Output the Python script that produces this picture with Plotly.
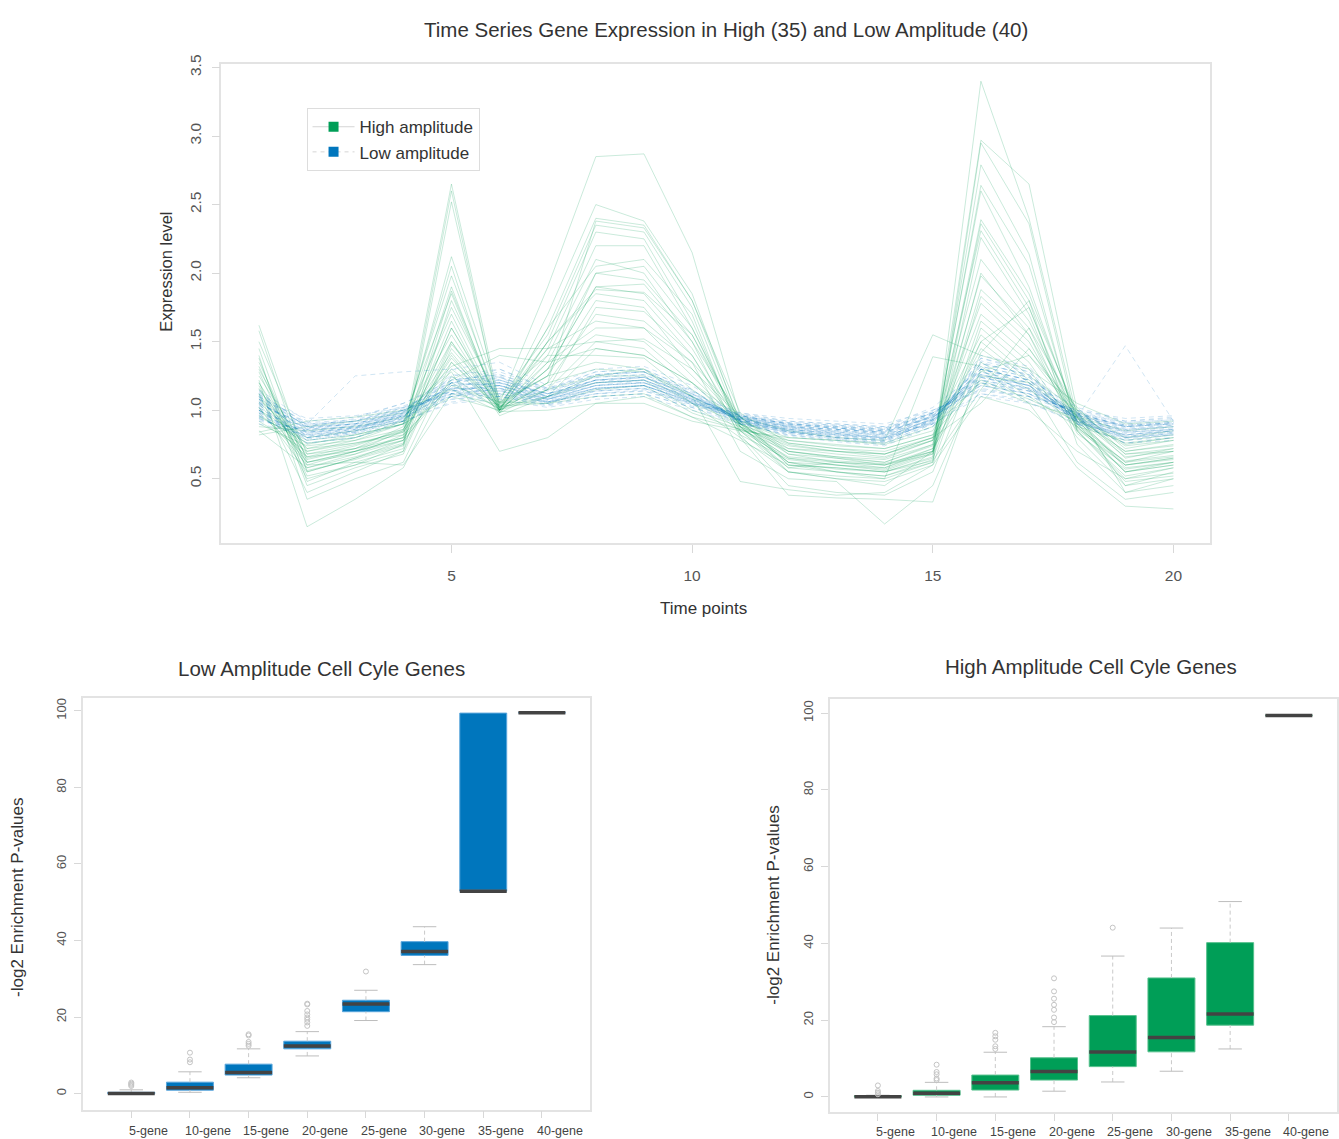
import plotly.graph_objects as go

W, H = 1339, 1139

time_points = list(range(1, 21))

high_amplitude = [
    [1.62, 0.62, 0.70, 0.80, 2.65, 1.05, 1.90, 2.85, 2.87, 2.15, 0.95, 0.60, 0.58, 0.55, 0.65, 3.40, 2.40, 0.95, 0.45, 0.55],
    [1.58, 0.55, 0.65, 0.75, 2.60, 1.00, 1.70, 2.50, 2.38, 1.85, 0.90, 0.55, 0.50, 0.45, 0.70, 2.97, 2.65, 1.00, 0.40, 0.50],
    [1.45, 0.48, 0.62, 0.72, 2.52, 1.02, 1.60, 2.40, 2.35, 1.80, 0.92, 0.62, 0.55, 0.52, 0.62, 2.95, 2.36, 0.90, 0.55, 0.60],
    [1.35, 0.60, 0.70, 0.85, 2.12, 1.08, 1.55, 2.35, 2.30, 1.75, 0.88, 0.58, 0.62, 0.60, 0.68, 2.79, 2.14, 0.85, 0.50, 0.58],
    [1.30, 0.65, 0.72, 0.88, 2.05, 1.00, 1.50, 2.30, 2.25, 1.65, 0.85, 0.65, 0.60, 0.58, 0.72, 2.64, 2.06, 0.88, 0.60, 0.65],
    [1.25, 0.70, 0.78, 0.90, 1.98, 1.05, 1.45, 2.20, 2.20, 1.60, 0.90, 0.70, 0.65, 0.62, 0.75, 2.60, 1.90, 0.92, 0.62, 0.70],
    [1.20, 0.58, 0.68, 0.82, 1.90, 0.98, 1.40, 2.10, 2.00, 1.50, 0.95, 0.68, 0.62, 0.60, 0.70, 2.39, 1.85, 0.95, 0.58, 0.62],
    [1.18, 0.50, 0.60, 0.75, 1.87, 1.02, 1.35, 2.00, 1.95, 1.55, 0.92, 0.60, 0.58, 0.55, 0.66, 2.36, 1.80, 0.98, 0.65, 0.72],
    [1.15, 0.72, 0.80, 0.92, 1.85, 1.00, 1.30, 1.90, 1.85, 1.45, 0.88, 0.72, 0.68, 0.65, 0.78, 2.31, 1.75, 0.90, 0.55, 0.60],
    [1.12, 0.40, 0.55, 0.70, 1.80, 1.04, 1.50, 1.85, 1.80, 1.40, 0.85, 0.55, 0.52, 0.50, 0.62, 2.26, 1.70, 0.85, 0.48, 0.52],
    [1.10, 0.68, 0.75, 0.85, 1.75, 1.06, 1.25, 1.80, 1.75, 1.30, 0.90, 0.75, 0.70, 0.68, 0.80, 2.10, 1.65, 0.95, 0.70, 0.75],
    [1.08, 0.75, 0.82, 0.90, 1.70, 1.00, 1.20, 1.70, 1.65, 1.35, 0.95, 0.70, 0.66, 0.64, 0.75, 1.98, 1.60, 1.00, 0.72, 0.78],
    [1.05, 0.62, 0.70, 0.80, 1.65, 0.98, 1.35, 1.60, 1.60, 1.25, 0.90, 0.65, 0.62, 0.58, 0.70, 1.88, 1.55, 0.92, 0.60, 0.65],
    [1.02, 0.55, 0.65, 0.78, 1.60, 1.02, 1.30, 1.55, 1.50, 1.20, 0.88, 0.62, 0.60, 0.56, 0.68, 1.83, 1.50, 0.88, 0.55, 0.62],
    [1.00, 0.80, 0.85, 0.92, 1.55, 1.00, 1.15, 1.50, 1.45, 1.15, 0.92, 0.78, 0.75, 0.72, 0.82, 1.78, 1.45, 0.98, 0.75, 0.80],
    [0.98, 0.66, 0.74, 0.86, 1.50, 0.96, 1.10, 1.45, 1.40, 1.20, 0.95, 0.72, 0.70, 0.66, 0.78, 1.70, 1.40, 1.02, 0.68, 0.72],
    [1.28, 0.52, 0.60, 0.70, 1.48, 1.10, 1.40, 1.40, 1.38, 1.10, 0.85, 0.58, 0.55, 0.52, 0.64, 1.65, 1.35, 0.85, 0.52, 0.58],
    [1.38, 0.45, 0.58, 0.68, 1.45, 1.05, 1.25, 1.35, 1.30, 1.05, 0.80, 0.55, 0.50, 0.48, 0.60, 1.60, 1.30, 0.80, 0.45, 0.50],
    [0.95, 0.78, 0.82, 0.90, 1.42, 1.00, 1.20, 1.30, 1.28, 1.10, 0.92, 0.80, 0.78, 0.75, 0.85, 1.55, 1.25, 1.00, 0.80, 0.85],
    [0.92, 0.70, 0.76, 0.84, 1.40, 0.98, 1.15, 1.25, 1.25, 1.05, 0.90, 0.76, 0.72, 0.70, 0.80, 1.50, 1.22, 0.96, 0.74, 0.78],
    [0.90, 0.74, 0.78, 0.86, 1.38, 1.02, 1.10, 1.20, 1.22, 1.00, 0.88, 0.74, 0.70, 0.68, 0.78, 1.45, 1.20, 0.94, 0.70, 0.74],
    [1.40, 0.35, 0.50, 0.62, 1.35, 1.00, 1.60, 2.05, 2.10, 1.70, 0.82, 0.45, 0.40, 0.38, 0.55, 1.42, 1.80, 0.75, 0.40, 0.45],
    [0.88, 0.85, 0.88, 0.95, 1.32, 1.45, 1.45, 1.50, 1.52, 1.30, 0.95, 0.85, 0.80, 0.78, 1.55, 1.40, 1.30, 1.05, 0.90, 0.92],
    [0.85, 0.58, 0.66, 0.76, 1.30, 1.03, 1.05, 1.15, 1.18, 0.98, 0.86, 0.70, 0.66, 0.62, 0.74, 1.35, 1.15, 0.90, 0.62, 0.66],
    [0.82, 0.88, 0.92, 0.98, 1.28, 0.70, 0.80, 1.05, 1.10, 0.95, 0.78, 0.60, 0.55, 0.50, 1.39, 1.32, 1.10, 0.88, 0.78, 0.82],
    [1.22, 0.15, 0.35, 0.58, 1.25, 1.00, 1.30, 1.90, 1.92, 1.50, 0.80, 0.38, 0.36, 0.35, 0.33, 1.30, 1.05, 0.58, 0.30, 0.28],
    [1.50, 0.68, 0.72, 0.80, 1.22, 1.40, 1.35, 1.45, 1.40, 1.20, 0.90, 0.68, 0.65, 0.60, 0.72, 1.28, 1.40, 0.95, 0.68, 0.70],
    [1.16, 0.62, 0.68, 0.78, 1.20, 1.01, 1.45, 1.65, 1.60, 1.35, 0.70, 0.50, 0.48, 0.17, 0.45, 1.25, 1.20, 0.62, 0.35, 0.40],
    [1.06, 0.72, 0.76, 0.82, 1.18, 1.06, 1.05, 1.10, 1.12, 0.95, 0.86, 0.78, 0.74, 0.72, 0.82, 1.22, 1.08, 0.92, 0.76, 0.80],
    [0.84, 0.92, 0.95, 1.00, 1.15, 0.99, 1.00, 1.05, 1.05, 0.92, 0.85, 0.80, 0.78, 0.76, 0.88, 1.20, 1.05, 0.95, 0.85, 0.88],
    [1.02, 0.60, 0.62, 0.60, 1.12, 1.04, 1.25, 2.00, 2.05, 1.60, 0.88, 0.62, 0.57, 0.55, 0.63, 1.15, 1.60, 0.86, 0.60, 0.64],
    [0.96, 0.76, 0.80, 0.90, 1.10, 1.00, 1.10, 1.25, 1.30, 1.10, 0.48, 0.42, 0.38, 0.40, 0.60, 1.10, 1.00, 0.70, 0.50, 0.54],
    [1.12, 0.64, 0.72, 0.84, 1.35, 1.02, 1.20, 2.38, 2.33, 1.80, 0.98, 0.76, 0.72, 0.68, 0.80, 1.05, 1.45, 0.94, 0.66, 0.70],
    [1.32, 0.56, 0.64, 0.74, 1.50, 1.03, 1.15, 1.75, 1.72, 1.40, 0.82, 0.64, 0.60, 0.57, 0.69, 2.00, 1.55, 0.83, 0.57, 0.62],
    [1.20, 0.66, 0.70, 0.78, 1.60, 1.00, 1.50, 1.88, 1.86, 1.55, 0.87, 0.66, 0.63, 0.61, 0.70, 1.50, 1.75, 0.87, 0.63, 0.67],
]

low_amplitude = [
    [1.10, 0.80, 0.84, 0.95, 1.20, 1.25, 1.10, 1.25, 1.28, 1.12, 0.92, 0.85, 0.80, 0.78, 0.92, 1.35, 1.25, 0.95, 0.80, 0.82],
    [1.05, 0.88, 0.90, 1.00, 1.12, 1.15, 1.05, 1.15, 1.18, 1.05, 0.95, 0.90, 0.88, 0.86, 0.98, 1.20, 1.12, 0.98, 0.88, 0.90],
    [0.98, 0.82, 0.86, 0.96, 1.18, 1.20, 1.12, 1.22, 1.20, 1.10, 0.93, 0.86, 0.83, 0.80, 0.94, 1.28, 1.18, 0.92, 0.82, 0.85],
    [1.12, 0.90, 0.92, 1.02, 1.10, 1.12, 1.06, 1.12, 1.15, 1.04, 0.97, 0.92, 0.90, 0.88, 1.00, 1.15, 1.10, 1.00, 0.92, 0.94],
    [1.00, 0.78, 0.82, 0.92, 1.25, 1.30, 1.15, 1.28, 1.30, 1.15, 0.90, 0.82, 0.78, 0.75, 0.90, 1.38, 1.28, 0.90, 0.76, 0.80],
    [1.08, 0.86, 0.88, 0.98, 1.15, 1.18, 1.08, 1.18, 1.22, 1.08, 0.94, 0.88, 0.85, 0.83, 0.96, 1.25, 1.15, 0.96, 0.86, 0.88],
    [0.95, 0.84, 0.87, 0.94, 1.08, 1.10, 1.04, 1.10, 1.12, 1.02, 0.92, 0.87, 0.84, 0.82, 0.93, 1.12, 1.08, 0.94, 0.86, 0.89],
    [1.15, 0.92, 0.95, 1.05, 1.22, 1.22, 1.12, 1.20, 1.24, 1.12, 0.98, 0.92, 0.90, 0.88, 1.02, 1.30, 1.22, 1.02, 0.92, 0.95],
    [1.02, 0.80, 0.85, 0.98, 1.30, 1.35, 1.18, 1.30, 1.32, 1.18, 0.95, 0.84, 0.80, 0.77, 0.93, 1.40, 1.32, 0.93, 0.78, 0.82],
    [0.92, 0.86, 0.88, 0.92, 1.05, 1.08, 1.02, 1.08, 1.10, 1.00, 0.90, 0.86, 0.84, 0.82, 0.90, 1.10, 1.05, 0.92, 0.85, 0.88],
    [1.06, 0.84, 0.88, 1.00, 1.16, 1.14, 1.08, 1.16, 1.18, 1.06, 0.94, 0.87, 0.85, 0.82, 0.95, 1.24, 1.16, 0.95, 0.85, 0.87],
    [1.10, 0.88, 0.94, 1.05, 1.20, 1.18, 1.10, 1.22, 1.25, 1.10, 0.96, 0.90, 0.87, 0.85, 0.98, 1.28, 1.20, 0.98, 0.88, 0.90],
    [0.96, 0.76, 0.80, 0.90, 1.12, 1.22, 1.12, 1.20, 1.22, 1.08, 0.90, 0.82, 0.79, 0.76, 0.88, 1.30, 1.22, 0.90, 0.78, 0.80],
    [1.04, 0.90, 1.25, 1.28, 1.30, 1.24, 1.10, 1.18, 1.20, 1.08, 0.96, 0.90, 0.88, 0.86, 0.98, 1.22, 1.15, 0.97, 0.88, 0.91],
    [1.00, 0.85, 0.89, 0.97, 1.10, 1.16, 1.06, 1.14, 1.16, 1.05, 0.93, 0.88, 0.86, 0.84, 0.95, 1.18, 1.12, 0.95, 1.47, 0.92],
    [1.14, 0.87, 0.90, 1.00, 1.24, 1.20, 1.12, 1.26, 1.28, 1.14, 0.96, 0.88, 0.84, 0.81, 0.96, 1.32, 1.24, 0.97, 0.84, 0.86],
    [0.94, 0.80, 0.84, 0.94, 1.14, 1.18, 1.06, 1.16, 1.18, 1.06, 0.91, 0.84, 0.81, 0.79, 0.91, 1.26, 1.18, 0.91, 0.80, 0.83],
    [1.08, 0.94, 0.96, 1.02, 1.12, 1.10, 1.06, 1.12, 1.14, 1.05, 0.98, 0.94, 0.92, 0.90, 1.00, 1.14, 1.10, 1.00, 0.94, 0.96],
    [1.02, 0.82, 0.86, 0.99, 1.22, 1.26, 1.14, 1.24, 1.26, 1.12, 0.93, 0.85, 0.82, 0.79, 0.93, 1.34, 1.26, 0.93, 0.81, 0.84],
    [0.98, 0.88, 0.90, 0.96, 1.08, 1.12, 1.04, 1.12, 1.14, 1.03, 0.94, 0.89, 0.87, 0.85, 0.95, 1.16, 1.10, 0.96, 0.89, 0.91],
    [1.12, 0.84, 0.86, 0.96, 1.18, 1.22, 1.10, 1.22, 1.24, 1.10, 0.94, 0.86, 0.83, 0.80, 0.94, 1.30, 1.20, 0.94, 0.84, 0.86],
    [1.04, 0.78, 0.83, 0.93, 1.20, 1.28, 1.16, 1.26, 1.28, 1.14, 0.92, 0.83, 0.79, 0.76, 0.91, 1.36, 1.28, 0.92, 0.79, 0.82],
    [0.90, 0.82, 0.85, 0.92, 1.06, 1.10, 1.03, 1.10, 1.12, 1.02, 0.90, 0.84, 0.82, 0.80, 0.90, 1.12, 1.06, 0.90, 0.82, 0.85],
    [1.10, 0.91, 0.93, 1.03, 1.16, 1.16, 1.08, 1.18, 1.20, 1.08, 0.97, 0.91, 0.89, 0.87, 0.99, 1.24, 1.16, 0.99, 0.91, 0.93],
    [1.00, 0.83, 0.87, 0.97, 1.26, 1.22, 1.12, 1.22, 1.24, 1.10, 0.92, 0.85, 0.82, 0.79, 0.93, 1.30, 1.22, 0.93, 0.82, 0.85],
    [1.06, 0.86, 0.89, 0.99, 1.14, 1.20, 1.10, 1.20, 1.22, 1.09, 0.95, 0.88, 0.86, 0.83, 0.96, 1.26, 1.18, 0.96, 0.87, 0.89],
    [0.97, 0.79, 0.83, 0.93, 1.16, 1.24, 1.14, 1.24, 1.26, 1.12, 0.91, 0.83, 0.80, 0.77, 0.90, 1.32, 1.24, 0.91, 0.80, 0.83],
    [1.13, 0.89, 0.92, 1.01, 1.20, 1.18, 1.09, 1.20, 1.22, 1.09, 0.96, 0.90, 0.87, 0.84, 0.97, 1.26, 1.18, 0.97, 0.89, 0.91],
    [1.01, 0.87, 0.90, 0.98, 1.10, 1.14, 1.05, 1.14, 1.16, 1.04, 0.94, 0.88, 0.86, 0.84, 0.95, 1.18, 1.12, 0.95, 0.88, 0.90],
    [1.09, 0.81, 0.85, 0.96, 1.22, 1.26, 1.15, 1.26, 1.28, 1.13, 0.93, 0.84, 0.80, 0.78, 0.92, 1.34, 1.26, 0.92, 0.80, 0.83],
    [0.93, 0.85, 0.88, 0.95, 1.12, 1.16, 1.06, 1.16, 1.18, 1.06, 0.93, 0.87, 0.85, 0.83, 0.93, 1.20, 1.14, 0.93, 0.86, 0.88],
    [1.07, 0.83, 0.87, 0.97, 1.18, 1.20, 1.10, 1.22, 1.24, 1.10, 0.94, 0.86, 0.83, 0.80, 0.94, 1.28, 1.20, 0.94, 0.83, 0.86],
    [1.03, 0.90, 0.92, 1.00, 1.12, 1.12, 1.06, 1.14, 1.16, 1.05, 0.96, 0.91, 0.89, 0.87, 0.98, 1.18, 1.12, 0.98, 0.91, 0.93],
    [0.99, 0.80, 0.84, 0.95, 1.20, 1.24, 1.12, 1.22, 1.24, 1.11, 0.92, 0.84, 0.81, 0.78, 0.92, 1.30, 1.22, 0.92, 0.81, 0.84],
    [1.11, 0.88, 0.91, 1.00, 1.14, 1.18, 1.08, 1.18, 1.20, 1.07, 0.95, 0.89, 0.86, 0.84, 0.96, 1.22, 1.16, 0.96, 0.88, 0.90],
    [0.96, 0.84, 0.87, 0.96, 1.16, 1.20, 1.09, 1.20, 1.22, 1.08, 0.93, 0.86, 0.83, 0.81, 0.93, 1.26, 1.18, 0.93, 0.84, 0.86],
    [1.05, 0.87, 0.90, 0.99, 1.14, 1.14, 1.07, 1.16, 1.18, 1.06, 0.95, 0.89, 0.87, 0.85, 0.97, 1.20, 1.14, 0.97, 0.89, 0.91],
    [1.00, 0.76, 0.80, 0.92, 1.20, 1.30, 1.16, 1.28, 1.30, 1.15, 0.91, 0.81, 0.77, 0.74, 0.88, 1.38, 1.30, 0.90, 0.76, 0.78],
    [1.08, 0.89, 0.92, 1.02, 1.16, 1.16, 1.08, 1.16, 1.18, 1.07, 0.96, 0.90, 0.88, 0.86, 0.98, 1.22, 1.14, 0.98, 0.90, 0.92],
    [0.94, 0.81, 0.85, 0.94, 1.10, 1.18, 1.08, 1.18, 1.20, 1.07, 0.92, 0.85, 0.82, 0.80, 0.91, 1.24, 1.18, 0.91, 0.82, 0.85],
]

gene_sets = ["5-gene", "10-gene", "15-gene", "20-gene", "25-gene", "30-gene", "35-gene", "40-gene"]
positions = [1, 2, 3, 4, 5, 6, 7, 8]

low_q1 = [0.0, 0.9, 4.85, 11.7, 21.4, 36.1, 52.9, 99.5]
low_median = [0.05, 1.55, 5.5, 12.45, 23.4, 37.1, 52.9, 99.5]
low_q3 = [0.35, 3.0, 7.7, 13.7, 24.4, 39.7, 99.4, 99.5]
low_lower = [0.0, 0.35, 4.15, 9.85, 19.1, 33.7, 52.9, 99.5]
low_upper = [1.0, 5.7, 11.7, 16.2, 27.0, 43.6, 99.4, 99.5]
low_outliers = [[2.0, 2.3, 2.6, 2.9], [8.2, 8.9, 10.7], [12.5, 13.0, 13.5, 15.2, 15.5],
                [17.7, 18.6, 19.3, 19.9, 20.7, 21.6, 23.3, 23.5], [31.9], [], [], []]

high_q1 = [0.0, 0.43, 1.8, 4.4, 7.9, 11.75, 18.7, 99.4]
high_median = [0.05, 0.95, 3.7, 6.65, 11.7, 15.5, 21.6, 99.4]
high_q3 = [0.3, 1.73, 5.7, 10.2, 21.2, 31.0, 40.2, 99.4]
high_lower = [0.0, 0.0, 0.0, 1.5, 3.9, 6.7, 12.5, 99.4]
high_upper = [0.45, 3.8, 11.65, 18.3, 36.7, 44.0, 50.9, 99.4]
high_outliers = [[0.7, 1.1, 1.55, 3.0], [4.4, 4.8, 5.9, 6.5, 8.4], [12.5, 13.2, 14.9, 15.8, 16.7],
                 [19.5, 20.7, 22.7, 24.0, 25.6, 27.5, 30.9], [44.1], [], [], []]

GREEN = "#009E57"
BLUE = "#0076BD"
FONT = "Liberation Sans, Arial, Helvetica, sans-serif"


def px(x):
    return x / W


def py(y):
    return 1 - y / H


fig = go.Figure()

# --- top: time series lines ---
for series in high_amplitude:
    fig.add_trace(go.Scatter(x=time_points, y=series, mode="lines",
                             line=dict(color="rgba(0,158,87,0.21)", width=1),
                             showlegend=False, hoverinfo="skip", xaxis="x", yaxis="y"))
for series in low_amplitude:
    fig.add_trace(go.Scatter(x=time_points, y=series, mode="lines",
                             line=dict(color="rgba(0,118,189,0.19)", width=1, dash="5px,4px"),
                             showlegend=False, hoverinfo="skip", xaxis="x", yaxis="y"))

# legend entries
fig.add_trace(go.Scatter(x=[None], y=[None], mode="lines+markers", name="High amplitude",
                         line=dict(color="#d5d5d5", width=1),
                         marker=dict(symbol="square", size=10, color=GREEN),
                         xaxis="x", yaxis="y"))
fig.add_trace(go.Scatter(x=[None], y=[None], mode="lines+markers", name="Low amplitude",
                         line=dict(color="#d5d5d5", width=1, dash="4px,4px"),
                         marker=dict(symbol="square", size=10, color=BLUE),
                         xaxis="x", yaxis="y"))


def add_boxes(xa, ya, q1, med, q3, lo, hi, outliers, color, edge):
    # boxes (whiskers drawn separately, dashed as in base R)
    fig.add_trace(go.Box(x=positions, q1=q1, median=med, q3=q3, lowerfence=q1, upperfence=q3,
                         fillcolor=color, line=dict(color=edge, width=1),
                         width=0.8, whiskerwidth=0, boxpoints=False,
                         showlegend=False, hoverinfo="skip", xaxis=xa, yaxis=ya))
    wx, wy, cx, cy = [], [], [], []
    for p, a, b, c, d in zip(positions, lo, q1, q3, hi):
        if b > a:
            wx += [p, p, None]
            wy += [a, b, None]
            cx += [p - 0.2, p + 0.2, None]
            cy += [a, a, None]
        if d > c:
            wx += [p, p, None]
            wy += [c, d, None]
            cx += [p - 0.2, p + 0.2, None]
            cy += [d, d, None]
    fig.add_trace(go.Scatter(x=wx, y=wy, mode="lines", line=dict(color="#c9c9c9", width=1, dash="4px,3px"),
                             showlegend=False, hoverinfo="skip", xaxis=xa, yaxis=ya))
    fig.add_trace(go.Scatter(x=cx, y=cy, mode="lines", line=dict(color="#bdbdbd", width=1),
                             showlegend=False, hoverinfo="skip", xaxis=xa, yaxis=ya))
    mx, my = [], []
    for p, m in zip(positions, med):
        mx += [p - 0.4, p + 0.4, None]
        my += [m, m, None]
    fig.add_trace(go.Scatter(x=mx, y=my, mode="lines", line=dict(color="#434343", width=3.5),
                             showlegend=False, hoverinfo="skip", xaxis=xa, yaxis=ya))
    ox, oy = [], []
    for p, outs in zip(positions, outliers):
        for v in outs:
            ox.append(p)
            oy.append(v)
    fig.add_trace(go.Scatter(x=ox, y=oy, mode="markers",
                             marker=dict(symbol="circle-open", size=5, color="#c4c4c4", line=dict(width=1)),
                             showlegend=False, hoverinfo="skip", xaxis=xa, yaxis=ya))


add_boxes("x2", "y2", low_q1, low_median, low_q3, low_lower, low_upper, low_outliers, BLUE, "#5aa6dc")
add_boxes("x3", "y3", high_q1, high_median, high_q3, high_lower, high_upper, high_outliers, GREEN, "#55c08c")

frame = dict(showgrid=False, zeroline=False, showline=True, mirror=True,
             linecolor="#e3e3e3", linewidth=1.5, ticks="outside", tickcolor="#d8d8d8",
             tickwidth=1)

fig.update_layout(
    width=W, height=H,
    margin=dict(l=0, r=0, t=0, b=0),
    paper_bgcolor="white", plot_bgcolor="white",
    font=dict(family=FONT, color="#444444"),
    xaxis=dict(domain=[px(221.7), px(1212.3)], range=[0.22, 20.77], anchor="y",
               tickvals=[5, 10, 15, 20], ticklen=8, tickfont=dict(size=15.5, color="#555555"),
               ticklabelstandoff=9, **frame),
    yaxis=dict(domain=[py(538.7), py(55)], range=[0.028, 3.529], anchor="x",
               tickvals=[0.5, 1.0, 1.5, 2.0, 2.5, 3.0, 3.5], tickformat=".1f", tickangle=-90,
               ticklen=8, tickfont=dict(size=15.5, color="#555555"), ticklabelstandoff=4, **frame),
    xaxis2=dict(domain=[px(83.3), px(590.9)], range=[0.18, 8.82], anchor="y2",
                tickvals=positions, showticklabels=False, ticklen=7, **frame),
    yaxis2=dict(domain=[py(1109.3), py(694)], range=[-4.15, 103.47], anchor="x2",
                tickvals=[0, 20, 40, 60, 80, 100], tickangle=-90, ticklen=7,
                tickfont=dict(size=13, color="#555555"), ticklabelstandoff=3, **frame),
    xaxis3=dict(domain=[px(831), px(1339)], range=[0.18, 8.82], anchor="y3",
                tickvals=positions, showticklabels=False, ticklen=7, **frame),
    yaxis3=dict(domain=[py(1111.7), py(695)], range=[-3.9, 103.8], anchor="x3",
                tickvals=[0, 20, 40, 60, 80, 100], tickangle=-90, ticklen=7,
                tickfont=dict(size=13, color="#555555"), ticklabelstandoff=3, **frame),
    legend=dict(x=px(307), y=py(100), xanchor="left", yanchor="top",
                bgcolor="white", bordercolor="#dddddd", borderwidth=1,
                font=dict(size=17, color="#333333"), tracegroupgap=0, itemwidth=42),
)

annotations = [
    dict(text="Time Series Gene Expression in High (35) and Low Amplitude (40)",
         x=px(727), y=py(21), size=20.5),
    dict(text="Low Amplitude Cell Cyle Genes", x=px(322), y=py(665), size=20.5),
    dict(text="High Amplitude Cell Cyle Genes", x=px(1093), y=py(663), size=20.5),
    dict(text="Time points", x=px(705), y=py(604), size=17),
    dict(text="Expression level", x=px(166), y=py(265), size=16.5, angle=-90),
    dict(text="-log2 Enrichment P-values", x=px(18), y=py(895), size=17, angle=-90),
    dict(text="-log2 Enrichment P-values", x=px(775), y=py(903), size=17, angle=-90),
]
for a in annotations:
    fig.add_annotation(text=a["text"], x=a["x"], y=a["y"], xref="paper", yref="paper",
                       xanchor="center", yanchor="middle", showarrow=False,
                       textangle=a.get("angle", 0),
                       font=dict(size=a["size"], color="#333333", family=FONT))

# category labels, set slightly right of the tick marks
for xa, ya in (("x2", 1131), ("x3", 1132)):
    for p, lab in zip(positions, gene_sets):
        fig.add_annotation(text=lab, x=p + 0.3, y=py(ya), xref=xa, yref="paper",
                           xanchor="center", yanchor="middle", showarrow=False,
                           font=dict(size=12.5, color="#444444", family=FONT))

fig.write_html("out.html", config={"displayModeBar": False},
               post_script="document.body.style.margin='0px';"
                           "document.body.style.overflow='hidden';")
